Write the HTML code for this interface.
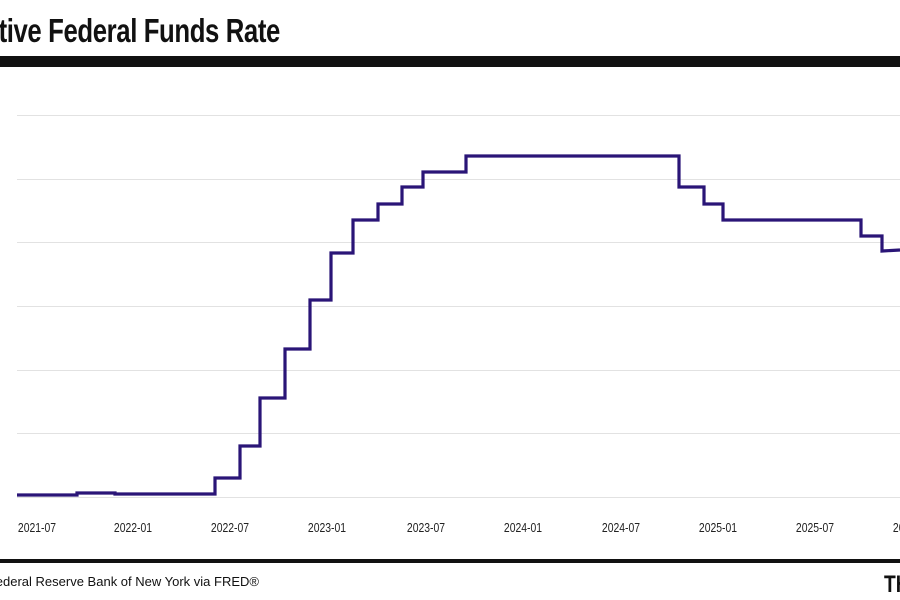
<!DOCTYPE html>
<html><head><meta charset="utf-8"><style>
html,body{margin:0;padding:0;background:#fff;width:900px;height:600px;overflow:hidden;position:relative}
.t{position:absolute;font-family:"Liberation Sans",sans-serif;}
</style></head><body>
<div class="t" style="right:620px;top:12px;font-size:33px;font-weight:bold;color:#111;letter-spacing:-0.5px;white-space:nowrap;transform:scaleX(0.78);transform-origin:right center">Effective Federal Funds Rate</div>
<div style="position:absolute;left:0;top:56px;width:900px;height:11px;background:#111"></div>
<svg width="900" height="600" style="position:absolute;left:0;top:0">
<g stroke="#e2e2e2" stroke-width="1">
<line x1="17" x2="900" y1="115.5" y2="115.5"/><line x1="17" x2="900" y1="179.5" y2="179.5"/>
<line x1="17" x2="900" y1="242.5" y2="242.5"/><line x1="17" x2="900" y1="306.5" y2="306.5"/>
<line x1="17" x2="900" y1="370.5" y2="370.5"/><line x1="17" x2="900" y1="433.5" y2="433.5"/>
<line x1="17" x2="900" y1="497.5" y2="497.5"/>
</g>
<polyline fill="none" stroke="#2a1577" stroke-width="3.2" stroke-linejoin="miter"
points="17,495 77,495 77,493 115,493 115,494 215,494 215,478 240,478 240,446 260,446 260,398 285,398 285,349 310,349 310,300 331,300 331,253 353,253 353,220 378,220 378,204 402,204 402,187 423,187 423,172 466,172 466,156 679,156 679,187 704,187 704,204 723,204 723,220 861,220 861,236 882,236 882,251 900,250"/>
<g font-family="Liberation Sans,sans-serif" font-size="13" fill="#222" text-anchor="middle">
<text transform="translate(37 532) scale(0.8 1)">2021-07</text>
<text transform="translate(133 532) scale(0.8 1)">2022-01</text>
<text transform="translate(230 532) scale(0.8 1)">2022-07</text>
<text transform="translate(327 532) scale(0.8 1)">2023-01</text>
<text transform="translate(426 532) scale(0.8 1)">2023-07</text>
<text transform="translate(523 532) scale(0.8 1)">2024-01</text>
<text transform="translate(621 532) scale(0.8 1)">2024-07</text>
<text transform="translate(718 532) scale(0.8 1)">2025-01</text>
<text transform="translate(815 532) scale(0.8 1)">2025-07</text>
<text transform="translate(912 532) scale(0.8 1)">2026-01</text>
</g>
</svg>
<div style="position:absolute;left:0;top:559px;width:900px;height:4px;background:#111"></div>
<div class="t" style="right:641px;top:574px;font-size:13px;color:#111;white-space:nowrap">Source: Federal Reserve Bank of New York via FRED®</div>
<div class="t" style="left:884px;top:571px;font-size:24px;font-weight:bold;color:#111;transform:scaleX(0.8);transform-origin:left center">TH</div>
</body></html>
